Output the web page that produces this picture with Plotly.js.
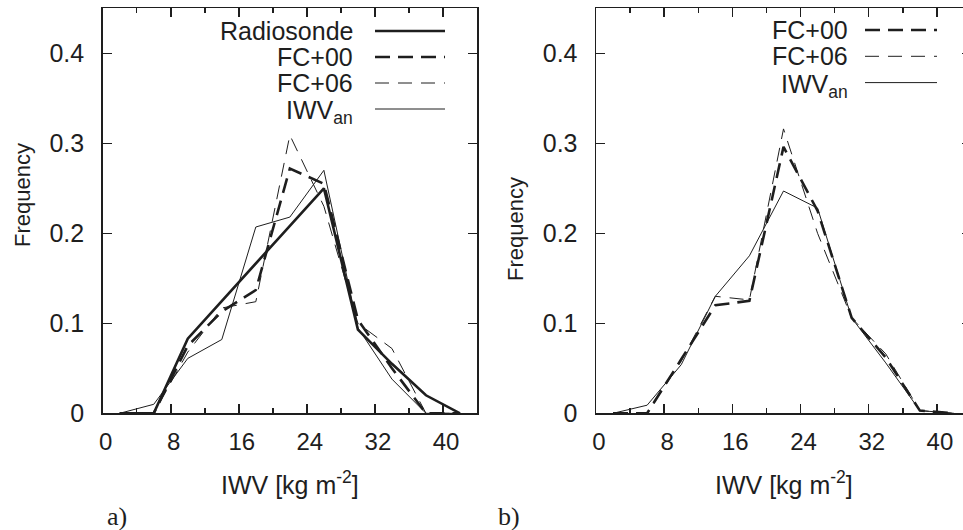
<!DOCTYPE html>
<html>
<head>
<meta charset="utf-8">
<script src="https://cdn.plot.ly/plotly-3.0.1.min.js"></script>
<style>
html, body { margin: 0; padding: 0; overflow: hidden; background: #fff; }
#chart { width: 972px; height: 530px; }
</style>
</head>
<body>
<div id="chart"></div>
<script>
// IWV bin centres [kg m^-2]
const bins = [2, 6, 10, 14, 18, 22, 26, 30, 34, 38, 42];

// Panel a)
const radiosondeA = [0, 0, 0.083, null, null, null, 0.25, 0.093, 0.055, 0.02, 0];
const fc00A       = [0, 0, 0.075, 0.113, 0.137, 0.272, 0.255, 0.104, 0.05, 0, 0];
const fc06A       = [0, 0, 0.068, 0.117, 0.124, 0.309, 0.23, 0.10, 0.072, 0, 0];
const iwvAnA      = [0, 0.01, 0.061, 0.082, 0.207, 0.218, 0.27, 0.095, 0.038, 0, 0];

// Panel b)
const fc00B  = [0, 0, 0.06, 0.12, 0.125, 0.296, 0.225, 0.106, 0.062, 0.003, 0];
const fc06B  = [0, 0, 0.058, 0.13, 0.126, 0.316, 0.2, 0.106, 0.066, 0.003, 0];
const iwvAnB = [0, 0.009, 0.054, 0.13, 0.175, 0.247, 0.228, 0.106, 0.056, 0.003, 0];

const seriesNames = ['Radiosonde', 'FC+00', 'FC+06', 'IWV<sub>an</sub>'];
const xTitle = 'IWV [kg m<sup>-2</sup>]';
const yTitle = 'Frequency';
const panelLabels = ['a)', 'b)'];

const W = 972, H = 530;
const px = x => x / W;
const py = y => 1 - y / H;
const ink = '#1e1e1e';

const styles = {
  'Radiosonde': {color: ink, width: 2.6, dash: 'solid'},
  'FC+00': {color: ink, width: 2.6, dash: '15px,8px'},
  'FC+06': {color: ink, width: 1, dash: '14px,9px'},
  'IWV<sub>an</sub>': {color: ink, width: 1, dash: 'solid'}
};

function tr(name, y, xa, ya) {
  return {x: bins, y: y, type: 'scatter', mode: 'lines', name: name,
    xaxis: xa, yaxis: ya, connectgaps: true, line: styles[name],
    showlegend: false, hoverinfo: 'skip'};
}

const data = [
  tr('Radiosonde', radiosondeA, 'x', 'y'),
  tr('FC+00', fc00A, 'x', 'y'),
  tr('FC+06', fc06A, 'x', 'y'),
  tr('IWV<sub>an</sub>', iwvAnA, 'x', 'y'),
  tr('FC+00', fc00B, 'x2', 'y2'),
  tr('FC+06', fc06B, 'x2', 'y2'),
  tr('IWV<sub>an</sub>', iwvAnB, 'x2', 'y2')
];

const tickFont = {family: 'Liberation Sans, Arial, sans-serif', size: 24, color: ink};

function xAxis(dom, anchor) {
  return {domain: dom, anchor: anchor, range: [0, 44], tickmode: 'linear', tick0: 0, dtick: 8,
    ticks: 'inside', ticklen: 9, tickwidth: 1.5, tickcolor: ink,
    minor: {tick0: 0, dtick: 4, ticks: 'inside', ticklen: 5, tickwidth: 1.5, tickcolor: ink},
    showline: true, mirror: 'ticks', linecolor: ink, linewidth: 1.5,
    showgrid: false, zeroline: false, tickfont: tickFont, ticklabelstandoff: 6, ticklabelshift: 3};
}
function yAxis(dom, anchor) {
  return {domain: dom, anchor: anchor, range: [0, 0.45], tickmode: 'linear', tick0: 0, dtick: 0.1,
    ticks: 'inside', ticklen: 9, tickwidth: 1.5, tickcolor: ink,
    showline: true, mirror: 'ticks', linecolor: ink, linewidth: 1.5,
    showgrid: false, zeroline: false, tickfont: {family: tickFont.family, size: 25, color: ink},
    ticklabelstandoff: 12};
}

const yDom = [py(413.3), py(8.3)];
const layout = {
  width: W, height: H,
  margin: {l: 0, r: 0, t: 0, b: 0},
  paper_bgcolor: '#fff', plot_bgcolor: '#fff',
  showlegend: false,
  xaxis: xAxis([px(102.7), px(477)], 'y'),
  yaxis: yAxis(yDom, 'x'),
  xaxis2: xAxis([px(596), px(971)], 'y2'),
  yaxis2: yAxis(yDom, 'x2'),
  annotations: [],
  shapes: []
};

// Axis titles and panel labels
const textFont = {family: 'Liberation Sans, Arial, sans-serif', size: 25, color: ink};
layout.annotations.push(
  {xref: 'paper', yref: 'paper', x: px(22), y: py(195), text: yTitle, textangle: -90, showarrow: false,
   xanchor: 'center', yanchor: 'middle', font: {family: textFont.family, size: 22, color: ink}},
  {xref: 'paper', yref: 'paper', x: px(515), y: py(229), text: yTitle, textangle: -90, showarrow: false,
   xanchor: 'center', yanchor: 'middle', font: {family: textFont.family, size: 22, color: ink}},
  {xref: 'paper', yref: 'paper', x: px(290), y: py(483), text: xTitle, showarrow: false,
   xanchor: 'center', yanchor: 'middle', font: {family: textFont.family, size: 25, color: ink}},
  {xref: 'paper', yref: 'paper', x: px(783.5), y: py(483), text: xTitle, showarrow: false,
   xanchor: 'center', yanchor: 'middle', font: {family: textFont.family, size: 25, color: ink}},
  {xref: 'paper', yref: 'paper', x: px(117), y: py(516), text: panelLabels[0], showarrow: false,
   xanchor: 'center', yanchor: 'middle', font: {family: 'Liberation Serif, serif', size: 26, color: ink}},
  {xref: 'paper', yref: 'paper', x: px(509), y: py(516), text: panelLabels[1], showarrow: false,
   xanchor: 'center', yanchor: 'middle', font: {family: 'Liberation Serif, serif', size: 26, color: ink}}
);

// Gnuplot-style keys: right-aligned text, sample line to the right
function addKey(names, textRight, lineX0, lineX1, row0, rowStep) {
  names.forEach((n, i) => {
    const yy = row0 + i * rowStep;
    const isSub = n.indexOf('<sub>') >= 0;
    layout.annotations.push({xref: 'paper', yref: 'paper', x: px(textRight), y: py(yy + (isSub ? 3 : 0)),
      text: n, showarrow: false, xanchor: 'right', yanchor: 'middle', font: textFont});
    const s = styles[n];
    layout.shapes.push({type: 'line', xref: 'paper', yref: 'paper',
      x0: px(lineX0), x1: px(lineX1), y0: py(yy), y1: py(yy),
      line: {color: s.color, width: s.width, dash: s.dash}});
  });
}
addKey(seriesNames, 355, 375, 445, 31, 26);
addKey(seriesNames.slice(1), 850, 865, 937, 30, 26.3);

Plotly.newPlot('chart', data, layout, {staticPlot: true, displayModeBar: false});
</script>
</body>
</html>
